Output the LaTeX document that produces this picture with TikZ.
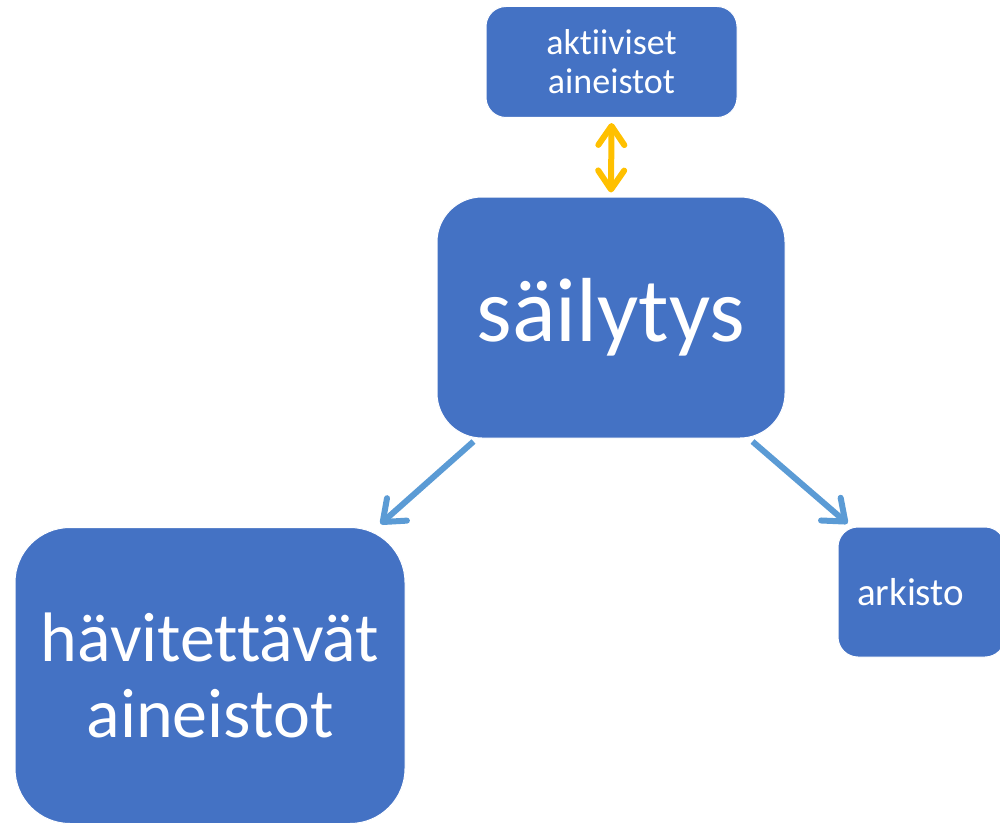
\documentclass[tikz,border=0pt]{standalone}
\usepackage{fontspec}
\setmainfont[Ligatures=NoCommon]{Carlito}
\usetikzlibrary{arrows.meta}
\definecolor{boxblue}{HTML}{4472C4}
\definecolor{lineblue}{HTML}{5B9BD5}
\definecolor{lineyellow}{HTML}{FFC000}

\begin{document}
\begin{tikzpicture}[
  x=1pt, y=-1pt,
  every node/.style={inner sep=0pt},
  box/.style={draw=white, line width=1pt, fill=boxblue, text=white, align=center},
  flow/.style={draw=lineblue, line width=6pt, -{Straight Barb[round, length=19pt, width=30pt]}},
  swap/.style={draw=lineyellow, line width=6pt, {Straight Barb[round, length=19pt, width=26pt]}-{Straight Barb[round, length=19pt, width=26pt]}}]

  \useasboundingbox (0,0) rectangle (1000,824);

  % --- the four boxes ---
  \node[box, minimum width=251pt, minimum height=111pt, rounded corners=20pt,
        font=\fontsize{36}{39}\selectfont] (aktiiv) at (611.5,62) {aktiiviset\\aineistot};
  \node[box, minimum width=348pt, minimum height=241pt, rounded corners=45pt,
        font=\fontsize{91}{100}\selectfont] (sail) at (611,317.5) {säilytys};
  \node[box, minimum width=390pt, minimum height=296pt, rounded corners=55pt,
        font=\fontsize{70}{76}\selectfont] (havit) at (210,675.5) {hävitettävät\\aineistot};
  \node[box, minimum height=130pt, rounded corners=20pt, text width=129pt,
        align=left, inner xsep=19pt, font=\fontsize{39}{44}\selectfont] (arkisto) at (921.5,592) {arkisto};

  % --- connectors ---
  \draw[swap] ([yshift=-5pt]aktiiv.south) -- ([yshift=4pt]sail.north);
  \draw[flow] ([xshift=37pt,yshift=-3pt]sail.south west) -- ([xshift=-25pt,yshift=3pt]havit.north east);
  \draw[flow] ([xshift=-33pt,yshift=-3pt]sail.south east) -- ([xshift=10pt,yshift=3pt]arkisto.north west);

\end{tikzpicture}
\end{document}
